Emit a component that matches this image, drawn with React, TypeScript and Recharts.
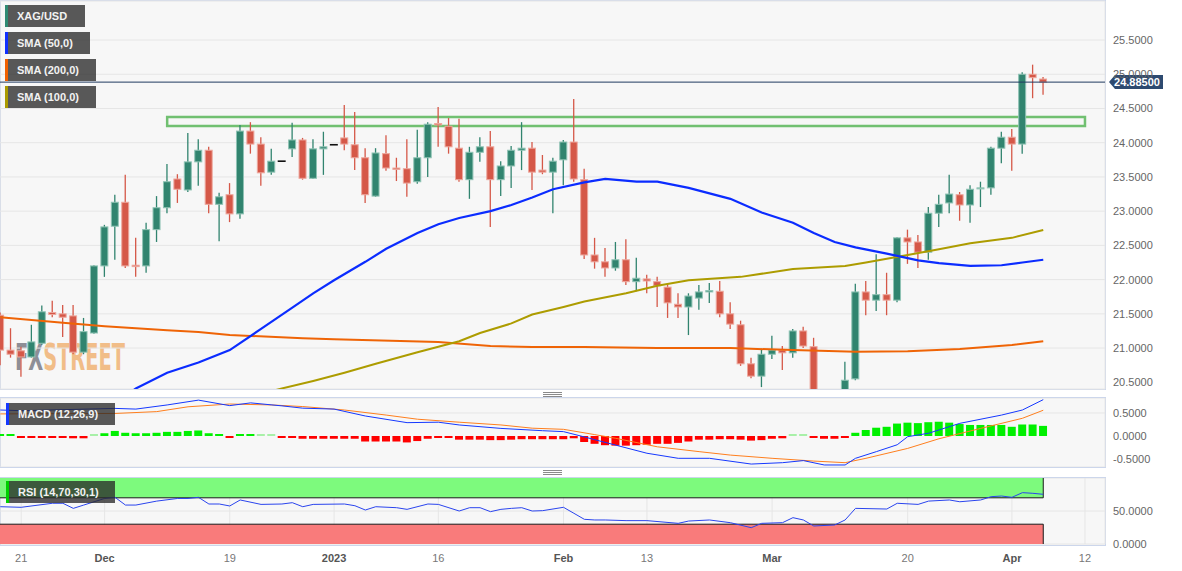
import React from 'react';
import {
  ComposedChart, Bar, Line, XAxis, YAxis, CartesianGrid,
  ReferenceLine, ReferenceArea, Cell,
} from 'recharts';

// ---------- categories (trading days) ----------
const dates = [
  'Nov 17','Nov 18','Nov 21','Nov 22','Nov 23','Nov 24','Nov 25','Nov 28','Nov 29','Nov 30',
  'Dec 1','Dec 2','Dec 5','Dec 6','Dec 7','Dec 8','Dec 9','Dec 12','Dec 13','Dec 14',
  'Dec 15','Dec 16','Dec 19','Dec 20','Dec 21','Dec 22','Dec 23','Dec 26','Dec 27','Dec 28',
  'Dec 29','Dec 30','Jan 2','Jan 3','Jan 4','Jan 5','Jan 6','Jan 9','Jan 10','Jan 11',
  'Jan 12','Jan 13','Jan 16','Jan 17','Jan 18','Jan 19','Jan 20','Jan 23','Jan 24','Jan 25',
  'Jan 26','Jan 27','Jan 30','Jan 31','Feb 1','Feb 2','Feb 3','Feb 6','Feb 7','Feb 8',
  'Feb 9','Feb 10','Feb 13','Feb 14','Feb 15','Feb 16','Feb 17','Feb 20','Feb 21','Feb 22',
  'Feb 23','Feb 24','Feb 27','Feb 28','Mar 1','Mar 2','Mar 3','Mar 6','Mar 7','Mar 8',
  'Mar 9','Mar 10','Mar 13','Mar 14','Mar 15','Mar 16','Mar 17','Mar 20','Mar 21','Mar 22',
  'Mar 23','Mar 24','Mar 27','Mar 28','Mar 29','Mar 30','Mar 31','Apr 3','Apr 4','Apr 5',
  'Apr 6',
];

// ---------- XAG/USD daily OHLC ----------
const opens = [
  21.48,20.97,20.96,20.87,21.07,21.52,21.50,21.47,20.94,21.22,
  22.20,22.78,23.13,22.21,22.20,22.73,23.05,23.47,23.31,23.72,
  23.89,23.10,23.24,22.96,24.17,23.98,23.57,23.73,23.91,24.04,
  23.48,23.91,23.97,24.07,23.97,23.78,23.22,23.84,23.63,23.62,
  23.43,23.78,24.28,24.24,23.92,23.46,23.86,23.94,23.46,23.66,
  23.89,23.92,23.60,23.57,23.75,24.01,23.46,22.36,22.26,22.17,
  22.29,21.97,22.01,21.97,21.89,21.64,21.60,21.73,21.82,21.83,
  21.50,21.34,20.77,20.59,20.91,20.97,20.93,21.25,21.02,20.10,
  20.08,20.15,20.55,21.82,21.70,21.78,21.70,22.61,22.55,22.40,
  22.97,23.12,23.24,23.09,23.33,23.34,23.92,24.08,23.98,25.00,
  24.93,
];
const highs = [
  21.52,21.29,21.02,21.34,21.62,21.69,21.63,21.63,21.44,22.21,
  22.80,23.24,23.53,22.61,22.83,23.22,23.69,23.54,24.14,24.05,
  23.94,23.27,23.41,24.26,24.30,24.08,23.91,23.735,24.29,24.07,
  24.05,24.16,23.975,24.55,24.45,23.92,23.92,24.11,23.78,24.05,
  24.19,24.30,24.52,24.36,24.35,23.94,24.08,24.17,23.73,23.95,
  24.30,24.01,23.82,23.78,24.04,24.64,23.62,22.61,22.46,22.55,
  22.59,22.32,22.07,22.04,21.95,21.80,21.80,21.92,21.95,21.98,
  21.67,21.40,20.86,20.99,21.18,21.03,21.28,21.31,21.15,20.25,
  20.30,20.80,21.94,21.98,22.37,22.10,22.62,22.73,22.65,23.06,
  23.24,23.53,23.28,23.38,23.43,23.94,24.16,24.20,25.03,25.14,
  24.96,
];
const lows = [
  20.75,20.86,20.58,20.86,21.05,21.45,21.16,20.91,20.91,21.21,
  22.04,22.29,22.17,22.04,22.10,22.55,22.97,23.12,23.28,23.37,
  22.97,22.56,22.84,22.89,23.84,23.37,23.53,23.725,23.79,23.46,
  23.47,23.53,23.965,23.89,23.60,23.12,23.21,23.59,23.44,23.21,
  23.40,23.50,23.94,23.84,23.43,23.18,23.72,22.77,23.22,23.34,
  23.60,23.31,23.54,22.97,23.38,23.43,22.30,22.16,22.04,22.13,
  21.92,21.83,21.80,21.60,21.44,21.44,21.19,21.56,21.66,21.45,
  21.28,20.74,20.56,20.43,20.84,20.68,20.86,21.00,20.05,19.95,
  19.90,19.95,20.53,21.48,21.54,21.48,21.67,22.23,22.17,22.29,
  22.77,22.97,22.86,22.83,23.06,23.24,23.70,23.59,23.84,24.65,
  24.70,
];
const closes = [
  20.97,20.91,20.87,21.09,21.53,21.49,21.45,20.94,21.24,22.20,
  22.77,23.13,22.20,22.19,22.73,23.05,23.43,23.32,23.72,23.89,
  23.10,23.21,22.96,24.17,23.98,23.56,23.73,23.73,24.04,23.48,
  23.91,23.94,23.97,23.98,23.78,23.24,23.85,23.63,23.61,23.41,
  23.78,24.27,24.26,23.94,23.46,23.86,23.94,23.46,23.66,23.89,
  23.92,23.57,23.57,23.73,24.01,23.47,22.36,22.26,22.17,22.29,
  21.97,22.02,21.98,21.91,21.66,21.60,21.76,21.82,21.84,21.50,
  21.35,20.77,20.59,20.91,20.97,20.93,21.25,21.03,20.10,20.08,
  20.15,20.53,21.82,21.70,21.78,21.70,22.61,22.55,22.40,22.97,
  23.10,23.25,23.09,23.32,23.34,23.92,24.08,23.98,25.00,24.95,
  24.885,
];

// ---------- moving averages (day index, value) ----------
const sma50Days = [12,13,16,19,22,25,28,30,32,35,37,40,42,44,47,49,51,53,56,58,61,63,66,70,73,76,78,80,82,85,88,90,93,96,98,100];
const sma50Vals = [20.30,20.41,20.64,20.79,20.97,21.28,21.59,21.80,21.99,22.26,22.45,22.68,22.81,22.90,23.00,23.09,23.20,23.32,23.42,23.47,23.43,23.43,23.34,23.18,22.98,22.83,22.68,22.55,22.47,22.38,22.28,22.24,22.20,22.21,22.25,22.29];
const sma200Days = [0,3,6,10,13,16,19,22,29,32,42,47,51,56,63,70,76,82,87,92,97,100];
const sma200Vals = [21.45,21.41,21.37,21.32,21.29,21.26,21.235,21.19,21.145,21.13,21.09,21.03,21.016,21.016,21.00,21.00,20.97,20.945,20.955,20.985,21.045,21.10];
const sma100Days = [26,27,30,33,36,40,42,44,46,49,51,54,56,60,63,66,71,76,81,83,87,90,93,97,100];
const sma100Vals = [20.37,20.41,20.52,20.64,20.77,20.94,21.02,21.10,21.22,21.36,21.49,21.60,21.68,21.80,21.91,21.99,22.04,22.155,22.20,22.25,22.36,22.445,22.53,22.61,22.725];

// ---------- MACD (12,26,9) ----------
const macdDays = [0,2,11,13,16,19,22,24,27,29,32,35,39,42,44,48,52,54,56,57,62,65,68,72,75,77,79,81,82,84,86,87,89,92,96,98,100];
const macdVals = [0.565,0.55,0.60,0.585,0.675,0.78,0.66,0.72,0.655,0.605,0.585,0.435,0.29,0.30,0.24,0.165,0.115,0.095,-0.02,-0.08,-0.375,-0.485,-0.485,-0.61,-0.58,-0.535,-0.63,-0.63,-0.485,-0.34,-0.19,-0.015,0.06,0.275,0.455,0.565,0.79];
const signalDays = [0,11,15,18,22,26,29,33,37,40,44,48,51,54,57,59,63,67,70,74,78,81,83,87,90,94,98,100];
const signalVals = [0.48,0.49,0.53,0.635,0.695,0.675,0.64,0.565,0.455,0.365,0.30,0.24,0.17,0.145,0.03,-0.05,-0.235,-0.34,-0.415,-0.485,-0.545,-0.58,-0.485,-0.27,-0.06,0.165,0.385,0.56];
const histVals = [
  0.04,0.02,-0.01,-0.02,-0.01,-0.02,-0.01,-0.05,-0.05,0.0,
  0.06,0.11,0.07,0.06,0.06,0.07,0.09,0.09,0.11,0.12,
  0.06,0.02,-0.02,0.01,0.005,0.0,0.0,-0.03,-0.03,-0.06,
  -0.06,-0.06,-0.06,-0.06,-0.06,-0.12,-0.12,-0.12,-0.12,-0.14,
  -0.11,-0.06,-0.03,-0.03,-0.08,-0.08,-0.08,-0.09,-0.09,-0.08,
  -0.07,-0.07,-0.07,-0.07,-0.07,-0.05,-0.13,-0.17,-0.20,-0.21,
  -0.21,-0.20,-0.19,-0.17,-0.17,-0.15,-0.12,-0.08,-0.08,-0.07,
  -0.07,-0.08,-0.10,-0.09,-0.06,-0.05,0.0,0.0,-0.04,-0.06,
  -0.06,-0.03,0.07,0.13,0.18,0.20,0.27,0.29,0.28,0.30,
  0.31,0.29,0.26,0.24,0.24,0.24,0.24,0.20,0.25,0.25,
  0.22,
];

// ---------- RSI (14) ----------
const rsiDays = [0,2,5,6,7,8,10,11,12,13,15,17,18,19,20,21,22,23,25,27,28,29,30,33,34,35,36,38,39,41,42,44,45,46,47,48,49,50,51,52,54,55,56,57,58,60,62,65,66,68,70,72,73,75,76,77,78,80,81,82,85,86,88,89,91,92,94,95,96,97,98,99,100];
const rsiVals = [56.5,55.6,61.7,61.7,54,59,69,70.7,59,59,65,69,69,70.7,60.6,60.6,57.6,66.7,60,60.6,62.6,56.5,60,60.6,58,51.5,56.5,55,52.5,60.6,60,50,55,55,49,52.5,54,55,50,50.5,55.6,46.5,37.4,36.4,36.4,35.4,35.4,31.3,34.8,36.4,32.3,24.7,31.3,32.3,39.9,36.4,27.3,28.8,36.4,54,53,61.7,60,65,66.7,64,66.7,71.7,72.7,70.7,77.8,76.8,75.3];

// ---------- axes / annotations ----------
const tickDays = [2, 10, 22, 32, 42, 54, 62, 74, 87, 97, 104];
const tickLabels = ['21', 'Dec', '19', '2023', '16', 'Feb', '13', 'Mar', '20', 'Apr', '12'];
const boldLabels = ['Dec', '2023', 'Feb', 'Mar', 'Apr'];
const priceTicks = [20.5, 21, 21.5, 22, 22.5, 23, 23.5, 24, 24.5, 25, 25.5];
const macdTicks = [-0.5, 0, 0.5];
const rsiTicks = [0, 50];
const lastPrice = 24.885;
const zoneLow = 24.245;
const zoneHigh = 24.375;
const zoneFromDay = 16;
const zoneToDay = 104;

const legendMain = [
  { label: 'XAG/USD', color: '#2f8a73', top: 5, w: 80 },
  { label: 'SMA (50,0)', color: '#1030ff', top: 32, w: 85 },
  { label: 'SMA (200,0)', color: '#f06000', top: 59, w: 91 },
  { label: 'SMA (100,0)', color: '#aa9a00', top: 86, w: 91 },
];

// ---------- derived tables ----------
const candles = dates.map((d, i) => ({
  i, d, o: opens[i], h: highs[i], l: lows[i], c: closes[i], range: [lows[i], highs[i]],
}));
const pts = (days: number[], vals: number[]) => days.map((i, k) => ({ i, v: vals[k] }));
const histData = histVals.map((h, i) => ({ i, h }));
const lastDay = dates.length - 1;

const XD: [number, number] = [-0.029, 105.92];
const W = 1182;
const FONT = '"Liberation Sans", Arial, Helvetica, sans-serif';
const GREEN = '#31846f';
const RED = '#d55848';
const GRID = '#e6e6e6';
const BORDER = '#ccd6eb';

function Candle(props: any) {
  const { x, y, width, height, payload } = props;
  if (!payload || x == null || y == null) return null;
  const { o, h, l, c } = payload;
  const top = height >= 0 ? y : y + height;
  const hh = Math.abs(height);
  const k = h > l ? hh / (h - l) : 0;
  const yO = top + (h - o) * k;
  const yC = top + (h - c) * k;
  const cx = x + width / 2;
  if (o === c) {
    return <line x1={x} x2={x + width} y1={yO} y2={yO} stroke="#111" strokeWidth={1.6} />;
  }
  const up = c > o;
  const fill = up ? GREEN : RED;
  const edge = up ? '#8fc3b4' : '#eda79d';
  const bt = Math.min(yO, yC);
  const bh = Math.max(Math.abs(yC - yO), 1);
  return (
    <g>
      <line x1={cx} x2={cx} y1={top} y2={top + hh} stroke={fill} strokeWidth={1.3} />
      <rect x={x + 0.5} y={bt} width={width - 1} height={bh} fill={fill} stroke={edge} strokeWidth={1} />
    </g>
  );
}

function PriceTag(props: any) {
  const vb = props.viewBox || {};
  const y = vb.y;
  const x = vb.x + vb.width;
  if (y == null || isNaN(x)) return null;
  return (
    <g>
      <polygon
        points={`${x + 4},${y} ${x + 10},${y - 7} ${x + 58},${y - 7} ${x + 58},${y + 7} ${x + 10},${y + 7}`}
        fill="#2d4a70"
      />
      <text x={x + 32} y={y} dy="0.36em" textAnchor="middle" fill="#fff" fontSize={11} fontWeight="bold">
        {lastPrice.toFixed(5)}
      </text>
    </g>
  );
}

function XTick(props: any) {
  const { x, y, payload } = props;
  const idx = tickDays.indexOf(payload.value);
  const label = idx >= 0 ? tickLabels[idx] : '';
  const bold = boldLabels.includes(label);
  return (
    <text x={x} y={y} dy="0.71em" textAnchor="middle" fontSize={11}
      fontWeight={bold ? 'bold' : 'normal'} fill={bold ? '#555' : '#777'}>
      {label}
    </text>
  );
}

const yTick = { fontSize: 11, fill: '#666' };

function LegendBox({ label, color, left, top, w }: any) {
  return (
    <div style={{
      position: 'absolute', left, top, width: w, height: 22, background: 'rgba(40,40,40,0.77)',
      color: '#f2f2f2', fontSize: 11, fontWeight: 'bold', lineHeight: '22px', boxSizing: 'border-box',
      paddingLeft: 12, whiteSpace: 'nowrap', fontFamily: FONT,
    }}>
      <div style={{ position: 'absolute', left: 0, top: 0, width: 3, height: 22, background: color }} />
      {label}
    </div>
  );
}

function Handle({ top }: { top: number }) {
  return (
    <div style={{ position: 'absolute', left: 543, top, width: 19, height: 5 }}>
      {[0, 2, 4].map((d) => (
        <div key={d} style={{ position: 'absolute', left: 0, top: d, width: 19, height: 1, background: '#8a8a8a' }} />
      ))}
    </div>
  );
}

export default function App() {
  return (
    <div style={{ position: 'fixed', left: 0, top: 0, width: W, height: 571, background: '#fff', overflow: 'hidden', fontFamily: FONT }}>
      {/* panel backgrounds */}
      <div style={{ position: 'absolute', left: 0, top: 0, width: 1106, height: 390, background: '#f7f7f7', border: `1px solid ${BORDER}`, boxSizing: 'border-box' }} />
      <div style={{ position: 'absolute', left: 0, top: 397, width: 1106, height: 71, background: '#f7f7f7', border: `1px solid ${BORDER}`, boxSizing: 'border-box' }} />
      <div style={{ position: 'absolute', left: 0, top: 477, width: 1106, height: 69, background: '#f7f7f7', border: `1px solid ${BORDER}`, boxSizing: 'border-box' }} />

      {/* watermark */}
      <svg style={{ position: 'absolute', left: 0, top: 330 }} width={220} height={50}>
        <text x={15} y={40} textLength={110} lengthAdjust="spacingAndGlyphs" fontSize={37} fontWeight="bold"
          fontFamily='"DejaVu Sans Condensed", "DejaVu Sans", sans-serif'>
          <tspan fill="#8e8e96">FX</tspan><tspan fill="#f1bd88">STREET</tspan>
        </text>
      </svg>

      {/* main price panel */}
      <div style={{ position: 'absolute', left: 0, top: 0 }}>
        <ComposedChart width={W} height={390} data={candles} margin={{ top: 1, right: 0, bottom: 1, left: 0 }}>
          <CartesianGrid stroke={GRID} fill="none" />
          <XAxis dataKey="i" type="number" domain={XD} ticks={tickDays} allowDataOverflow
            tick={false} tickLine={false} axisLine={false} height={0} />
          <YAxis orientation="right" type="number" domain={[20.402, 26.07]} ticks={priceTicks} allowDataOverflow
            width={77} tickLine={false} axisLine={false} tickSize={6} tickMargin={2} tick={yTick}
            tickFormatter={(v: number) => v.toFixed(4)} />
          <Bar dataKey="range" barSize={8} isAnimationActive={false} shape={(p: any) => <Candle {...p} />} />
          <Line data={pts(sma200Days, sma200Vals)} dataKey="v" stroke="#ef6406" strokeWidth={2} dot={false} isAnimationActive={false} />
          <Line data={pts(sma100Days, sma100Vals)} dataKey="v" stroke="#ad9c00" strokeWidth={2} dot={false} isAnimationActive={false} />
          <Line data={pts(sma50Days, sma50Vals)} dataKey="v" stroke="#0b2cff" strokeWidth={2.2} dot={false} isAnimationActive={false} />
          <ReferenceArea x1={zoneFromDay} x2={zoneToDay} y1={zoneLow} y2={zoneHigh} fill="none"
            stroke="#4fb14f" strokeWidth={2.5} strokeOpacity={0.8} ifOverflow="visible" />
          <ReferenceLine y={lastPrice} stroke="#1f3a60" strokeWidth={1} label={<PriceTag />} />
        </ComposedChart>
      </div>

      {/* MACD panel */}
      <div style={{ position: 'absolute', left: 0, top: 398 }}>
        <ComposedChart width={W} height={69} data={histData} margin={{ top: 0, right: 0, bottom: 0, left: 0 }}>
          <CartesianGrid stroke={GRID} fill="none" />
          <XAxis dataKey="i" type="number" domain={XD} ticks={tickDays} allowDataOverflow
            tick={false} tickLine={false} axisLine={false} height={0} />
          <YAxis orientation="right" type="number" domain={[-0.674, 0.826]} ticks={macdTicks} allowDataOverflow
            width={77} tickLine={false} axisLine={false} tickSize={6} tickMargin={2} tick={yTick}
            tickFormatter={(v: number) => v.toFixed(4)} />
          <Bar dataKey="h" barSize={8} minPointSize={2} isAnimationActive={false}>
            {histData.map((d) => (
              <Cell key={d.i} fill={d.h > 0 ? '#00f000' : d.h < 0 ? '#ff0000' : '#a8f0a8'} />
            ))}
          </Bar>
          <Line data={pts(signalDays, signalVals)} dataKey="v" stroke="#ff7f1e" strokeWidth={1} dot={false} isAnimationActive={false} />
          <Line data={pts(macdDays, macdVals)} dataKey="v" stroke="#1538ff" strokeWidth={1} dot={false} isAnimationActive={false} />
        </ComposedChart>
      </div>

      {/* RSI panel */}
      <div style={{ position: 'absolute', left: 0, top: 478 }}>
        <ComposedChart width={W} height={93} data={candles} margin={{ top: 0, right: 0, bottom: 0, left: 0 }}>
          <CartesianGrid stroke={GRID} fill="none" />
          <XAxis dataKey="i" type="number" domain={XD} ticks={tickDays} allowDataOverflow
            tickLine={false} axisLine={false} height={27} tickSize={6} tickMargin={4} tick={<XTick />} />
          <YAxis orientation="right" type="number" domain={[0, 100]} ticks={rsiTicks} allowDataOverflow
            width={77} tickLine={false} axisLine={false} tickSize={6} tickMargin={2} tick={yTick}
            tickFormatter={(v: number) => v.toFixed(4)} />
          <ReferenceArea x1={XD[0]} x2={lastDay} y1={70} y2={100} fill="#7dfa7d" fillOpacity={1} stroke="none" ifOverflow="hidden" />
          <ReferenceArea x1={XD[0]} x2={lastDay} y1={0} y2={30} fill="#f97b7b" fillOpacity={1} stroke="none" ifOverflow="hidden" />
          <ReferenceLine segment={[{ x: XD[0], y: 70 }, { x: lastDay, y: 70 }]} stroke="#1a1a1a" ifOverflow="visible" />
          <ReferenceLine segment={[{ x: XD[0], y: 30 }, { x: lastDay, y: 30 }]} stroke="#1a1a1a" ifOverflow="visible" />
          <ReferenceLine segment={[{ x: lastDay, y: 70 }, { x: lastDay, y: 100 }]} stroke="#1a1a1a" ifOverflow="visible" />
          <ReferenceLine segment={[{ x: lastDay, y: 0 }, { x: lastDay, y: 30 }]} stroke="#1a1a1a" ifOverflow="visible" />
          <Line data={pts(rsiDays, rsiVals)} dataKey="v" stroke="#2a44ee" strokeWidth={1} dot={false} isAnimationActive={false} />
        </ComposedChart>
      </div>

      {/* panel handles */}
      <Handle top={392} />
      <Handle top={470} />

      {/* legends */}
      {legendMain.map((g) => (
        <LegendBox key={g.label} label={g.label} color={g.color} left={5} top={g.top} w={g.w} />
      ))}
      <LegendBox label="MACD (12,26,9)" color="#1538ff" left={6} top={403} w={109} />
      <LegendBox label="RSI (14,70,30,1)" color="#00d000" left={6} top={481} w={109} />
    </div>
  );
}
